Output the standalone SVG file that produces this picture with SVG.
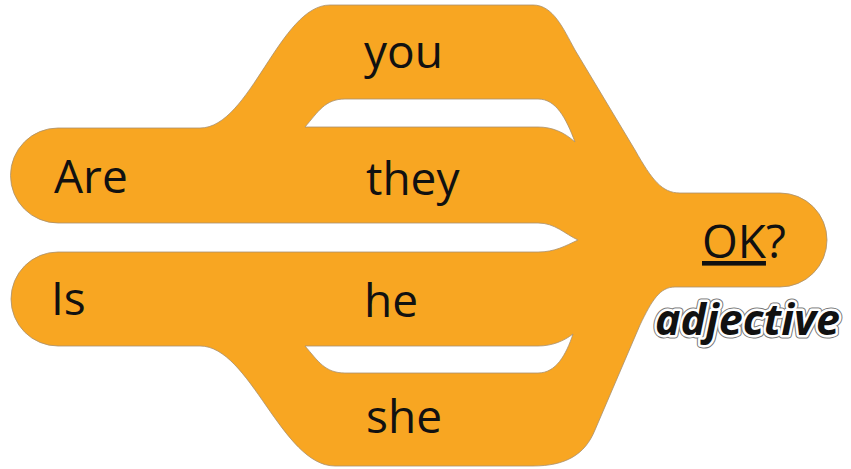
<svg xmlns="http://www.w3.org/2000/svg" width="851" height="469" viewBox="0 0 851 469">
<style>
.band{fill:#F8A622;stroke:#a89070;stroke-width:0.8;fill-rule:evenodd}
.w{font-family:"Open Sans","DejaVu Sans",sans-serif;font-size:46px;fill:#111}
.adj{font-family:"Open Sans","DejaVu Sans",sans-serif;font-size:43px;font-weight:bold;font-style:italic}
</style>
<rect width="851" height="469" fill="#fff"/>
<g id="connectors">
<path class="band" d="M58,128 L200,128 C250,128 280,5 330,5 L533,5 C553,5 563,28 575,50 L635,150 C652,180 662,193 680,193 L780,193 A47,47 0 0 1 780,287 L675,287 C660,287 652,300 640,325 L595,430 C585,455 565,466 533,466 L335,466 C282,466 250,346 200,346 L58,346 A47,47 0 0 1 58,252 L538,252 C555,252 565,246 578,240 C565,234 555,223 538,223 L58,223 A47,47 0 0 1 58,128 Z M305,127 C318,112 325,99 345,99 L538,99 C556,99 566,118 575,142 C564,132 552,127 538,127 Z M305,346 L538,346 C552,346 564,341 573,334 C566,355 556,373 538,373 L345,373 C325,373 318,361 305,346 Z"/>
</g>
<g id="node-are"><text class="w" x="54" y="193">Are</text></g>
<g id="node-is"><text class="w" x="51" y="315">Is</text></g>
<g id="node-you"><text class="w" x="364" y="68">you</text></g>
<g id="node-they"><text class="w" x="366" y="195">they</text></g>
<g id="node-he"><text class="w" x="364" y="317">he</text></g>
<g id="node-she"><text class="w" x="366" y="433">she</text></g>
<g id="node-ok"><text class="w" x="702" y="258"><tspan text-decoration="underline">OK</tspan>?</text></g>
<g id="label-adjective">
<text class="adj" x="655" y="335" fill="none" stroke="#777" stroke-width="7" stroke-linejoin="round">adjective</text>
<text class="adj" x="655" y="335" fill="none" stroke="#fff" stroke-width="5" stroke-linejoin="round">adjective</text>
<text class="adj" x="655" y="335" fill="#111">adjective</text>
</g>
</svg>
